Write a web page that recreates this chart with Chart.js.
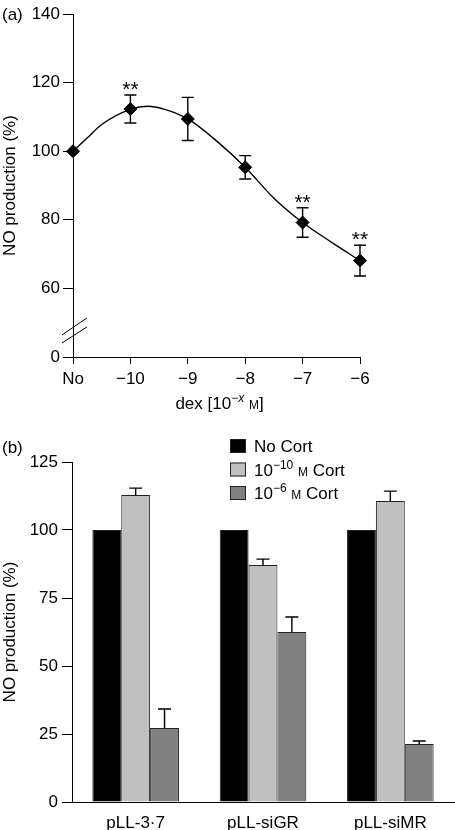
<!DOCTYPE html>
<html>
<head>
<meta charset="utf-8">
<script src="https://cdn.jsdelivr.net/npm/chart.js@4.4.1/dist/chart.umd.min.js"></script>
<style>
  body { margin: 0; background: #fff; }
  canvas { display: block; }
</style>
</head>
<body>
<canvas id="doseChart" width="455" height="415"></canvas>
<canvas id="cortChart" width="455" height="415"></canvas>
<script>
// panel (a): dexamethasone dose response
const doseLabels = ['No', '\u221210', '\u22129', '\u22128', '\u22127', '\u22126'];
const doseMeans = [100, 112.3, 109.4, 95.3, 79.2, 68.1];
const doseErrors = [0, 4.1, 6.3, 3.4, 4.3, 4.5];
const doseStars = ['', '**', '', '', '**', '**'];
// fitted curve (x = position on the dose axis)
const fitX = [0, 0.25, 0.5, 1, 1.3, 1.6, 2, 2.5, 3, 3.5, 4, 4.5, 5];
const fitY = [100, 103.9, 107.8, 112.2, 113.1, 112.2, 109.4, 103.0, 95.3, 86.3, 79.2, 73.5, 68.1];
const doseTicks = [40, 60, 80, 100, 120, 140];
const doseTickText = ['0', '60', '80', '100', '120', '140'];

// panel (b): knockdown vectors
const groups = ['pLL-3\u00b77', 'pLL-siGR', 'pLL-siMR'];
const seriesNames = ['No Cort', '10\u207b\u00b9\u2070 M Cort', '10\u207b\u2076 M Cort'];
const noCort = [100, 100, 100];
const lowCort = [112.9, 87.1, 110.7];
const highCort = [27.2, 62.5, 21.3];
const noCortErr = [0, 0, 0];
const lowCortErr = [2.5, 2.2, 3.6];
const highCortErr = [7.0, 5.5, 1.1];

const FONT = "'Liberation Sans', Arial, Helvetica, sans-serif";
Chart.defaults.font.family = FONT;
Chart.defaults.font.size = 17;
Chart.defaults.color = '#000';

// draw text made of runs (normal / superscript / small caps)
function drawRuns(ctx, runs, x, y, align) {
  let total = 0;
  runs.forEach(r => {
    ctx.font = (r.italic ? 'italic ' : '') + r.size + 'px ' + FONT;
    r.w = ctx.measureText(r.t).width;
    total += r.w;
  });
  let cx = align === 'center' ? x - total / 2 : x;
  ctx.textAlign = 'left';
  ctx.textBaseline = 'alphabetic';
  ctx.fillStyle = '#000';
  runs.forEach(r => {
    ctx.font = (r.italic ? 'italic ' : '') + r.size + 'px ' + FONT;
    ctx.fillText(r.t, cx, y + (r.dy || 0));
    cx += r.w;
  });
}

const tickGrid = { drawOnChartArea: false, color: '#000', tickLength: 10, lineWidth: 1 };
const blackBorder = { color: '#000', width: 1 };

const doseExtras = {
  id: 'doseExtras',
  beforeDatasetsDraw(chart) {
    const { ctx, scales: { x, y } } = chart;
    ctx.save();
    ctx.strokeStyle = '#000';
    ctx.lineWidth = 1.4;
    doseMeans.forEach((m, i) => {
      const e = doseErrors[i];
      if (!e) return;
      const px = x.getPixelForValue(i);
      const top = y.getPixelForValue(m + e);
      const bot = y.getPixelForValue(m - e);
      ctx.beginPath();
      ctx.moveTo(px, top); ctx.lineTo(px, bot);
      ctx.moveTo(px - 6, top); ctx.lineTo(px + 6, top);
      ctx.moveTo(px - 6, bot); ctx.lineTo(px + 6, bot);
      ctx.stroke();
    });
    ctx.restore();
  },
  afterDraw(chart) {
    const { ctx, chartArea, scales: { x, y } } = chart;
    ctx.save();
    ctx.font = '21px ' + FONT;
    ctx.fillStyle = '#000';
    ctx.textAlign = 'center';
    ctx.textBaseline = 'alphabetic';
    doseStars.forEach((s, i) => {
      if (!s) return;
      ctx.fillText(s, x.getPixelForValue(i), y.getPixelForValue(doseMeans[i] + doseErrors[i]) + 1);
    });
    // axis break marks
    const ax = chartArea.left;
    const c = y.getPixelForValue(47.6);
    ctx.strokeStyle = '#000';
    ctx.lineWidth = 1;
    ctx.beginPath();
    ctx.moveTo(ax - 11, c + 4); ctx.lineTo(ax + 14, c - 13);
    ctx.moveTo(ax - 11, c + 12); ctx.lineTo(ax + 14, c - 4);
    ctx.stroke();
    ctx.font = '17px ' + FONT;
    ctx.textAlign = 'left';
    ctx.fillText('(a)', 2, 20);
    drawRuns(ctx, [
      { t: 'dex [10', size: 17 },
      { t: '\u2212x', size: 12, dy: -7, italic: true },
      { t: ' ', size: 17 },
      { t: 'M', size: 12 },
      { t: ']', size: 17 }
    ], (chartArea.left + chartArea.right) / 2 + 3, 409, 'center');
    ctx.restore();
  }
};

new Chart(document.getElementById('doseChart'), {
  type: 'scatter',
  data: {
    datasets: [{
      label: 'fit',
      data: fitX.map((v, i) => ({ x: v, y: fitY[i] })),
      showLine: true,
      cubicInterpolationMode: 'monotone',
      borderColor: '#000',
      borderWidth: 1.4,
      pointRadius: 0,
      clip: false
    }, {
      label: 'NO production',
      data: doseMeans.map((v, i) => ({ x: i, y: v })),
      pointStyle: 'rectRot',
      pointRadius: 6.5,
      backgroundColor: '#000',
      borderColor: '#000',
      clip: false
    }]
  },
  options: {
    responsive: false,
    animation: false,
    layout: { padding: { top: 14, right: 95, left: 0, bottom: 0 } },
    plugins: { legend: { display: false }, tooltip: { enabled: false } },
    scales: {
      x: {
        type: 'linear',
        min: 0, max: 5,
        afterFit(s) { s.height = 415 - 357; },
        afterBuildTicks(s) { s.ticks = doseLabels.map((l, i) => ({ value: i })); },
        ticks: { callback: v => doseLabels[v], padding: 5, maxRotation: 0 },
        grid: Object.assign({}, tickGrid, { tickLength: 7 }),
        border: blackBorder
      },
      y: {
        min: 40, max: 140,
        afterFit(s) { s.width = 73; },
        afterBuildTicks(s) { s.ticks = doseTicks.map(v => ({ value: v })); },
        ticks: { callback: v => doseTickText[doseTicks.indexOf(v)], padding: 3 },
        grid: tickGrid,
        border: blackBorder,
        title: { display: true, text: 'NO production (%)', padding: { top: 0, bottom: 0 } }
      }
    }
  },
  plugins: [doseExtras]
});

// panel (b)
const cortErrors = [noCortErr, lowCortErr, highCortErr];
const legendRuns = [
  [{ t: 'No Cort', size: 17 }],
  [{ t: '10', size: 17 }, { t: '\u221210', size: 12, dy: -7 }, { t: ' ', size: 17 }, { t: 'M', size: 12 }, { t: ' Cort', size: 17 }],
  [{ t: '10', size: 17 }, { t: '\u22126', size: 12, dy: -7 }, { t: ' ', size: 17 }, { t: 'M', size: 12 }, { t: ' Cort', size: 17 }]
];

const cortExtras = {
  id: 'cortExtras',
  afterDatasetsDraw(chart) {
    const { ctx, scales: { y } } = chart;
    ctx.save();
    ctx.strokeStyle = '#000';
    ctx.lineWidth = 1.4;
    chart.data.datasets.forEach((ds, di) => {
      const meta = chart.getDatasetMeta(di);
      ds.data.forEach((v, i) => {
        const e = cortErrors[di][i];
        if (!e) return;
        const bar = meta.data[i];
        const top = y.getPixelForValue(v + e);
        ctx.beginPath();
        ctx.moveTo(bar.x, bar.y); ctx.lineTo(bar.x, top);
        ctx.moveTo(bar.x - 6.5, top); ctx.lineTo(bar.x + 6.5, top);
        ctx.stroke();
      });
    });
    ctx.restore();
  },
  afterDraw(chart) {
    const { ctx } = chart;
    ctx.save();
    chart.data.datasets.forEach((ds, i) => {
      const top = 24 + i * 23.5;
      ctx.fillStyle = ds.backgroundColor;
      ctx.fillRect(230, top, 16, 14);
      ctx.strokeStyle = '#222';
      ctx.lineWidth = 1;
      ctx.strokeRect(230.5, top + 0.5, 15, 13);
      drawRuns(ctx, legendRuns[i], 254, top + 13, 'left');
    });
    ctx.font = '17px ' + FONT;
    ctx.fillStyle = '#000';
    ctx.textAlign = 'left';
    ctx.textBaseline = 'alphabetic';
    ctx.fillText('(b)', 2, 38);
    ctx.restore();
  }
};

const barStyle = { borderColor: '#222', borderWidth: 1, categoryPercentage: 0.68, barPercentage: 1 };

new Chart(document.getElementById('cortChart'), {
  type: 'bar',
  data: {
    labels: groups,
    datasets: [
      Object.assign({ label: seriesNames[0], data: noCort, backgroundColor: '#000000' }, barStyle),
      Object.assign({ label: seriesNames[1], data: lowCort, backgroundColor: '#c0c0c0' }, barStyle),
      Object.assign({ label: seriesNames[2], data: highCort, backgroundColor: '#808080' }, barStyle)
    ]
  },
  options: {
    responsive: false,
    animation: false,
    layout: { padding: { top: 47, right: 1, left: 0, bottom: 0 } },
    plugins: { legend: { display: false }, tooltip: { enabled: false } },
    scales: {
      x: {
        afterFit(s) { s.height = 415 - 387; },
        ticks: { padding: 11, maxRotation: 0 },
        grid: { drawOnChartArea: false, drawTicks: false, color: '#000' },
        border: blackBorder
      },
      y: {
        min: 0, max: 125,
        afterFit(s) { s.width = 72; },
        ticks: { stepSize: 25, padding: 4 },
        grid: tickGrid,
        border: blackBorder,
        title: { display: true, text: 'NO production (%)', padding: { top: 0, bottom: 0 } }
      }
    }
  },
  plugins: [cortExtras]
});
</script>
</body>
</html>
